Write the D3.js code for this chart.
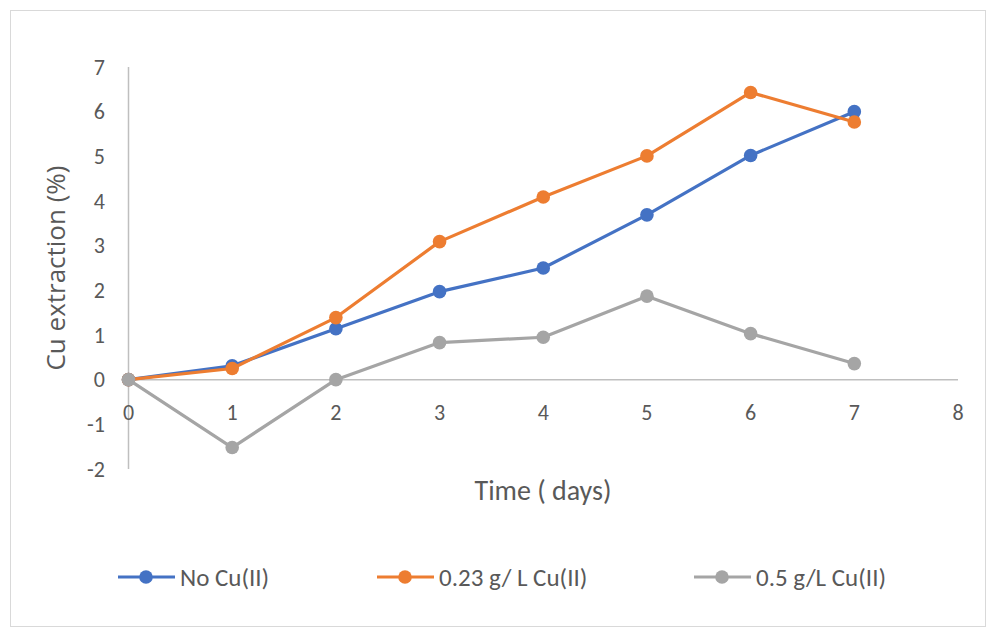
<!DOCTYPE html>
<html>
<head>
<meta charset="utf-8">
<script src="https://cdn.jsdelivr.net/npm/d3@7"></script>
<style>
  html, body { margin: 0; padding: 0; background: #fff; }
  svg { display: block; }
  text { font-family: Carlito, Calibri, "Liberation Sans Narrow", "Open Sans", sans-serif; fill: #595959; }
</style>
</head>
<body>
<svg id="chart" width="996" height="637"></svg>
<script>
const days = [0, 1, 2, 3, 4, 5, 6, 7];
const noCu = [0, 0.31, 1.14, 1.97, 2.50, 3.69, 5.02, 6.00];
const cu023 = [0, 0.25, 1.39, 3.09, 4.09, 5.01, 6.43, 5.77];
const cu05 = [0, -1.52, 0, 0.83, 0.95, 1.87, 1.03, 0.36];
const seriesNames = ["No Cu(II)", "0.23 g/ L Cu(II)", "0.5 g/L Cu(II)"];
const seriesColors = ["#4472C4", "#ED7D31", "#A5A5A5"];
const xTicks = [0, 1, 2, 3, 4, 5, 6, 7, 8];
const yTicks = [-2, -1, 0, 1, 2, 3, 4, 5, 6, 7];
const xTitle = "Time ( days)";
const yTitle = "Cu extraction (%)";

const series = [noCu, cu023, cu05].map((vals, i) => ({
  name: seriesNames[i], color: seriesColors[i],
  points: days.map((d, j) => ({ x: d, y: vals[j] }))
}));

const svg = d3.select("#chart");

// outer border
svg.append("rect").attr("x", 10.5).attr("y", 10.5).attr("width", 975).attr("height", 616)
  .attr("fill", "#fff").attr("stroke", "#D9D9D9").attr("stroke-width", 1);

const x = d3.scaleLinear().domain([0, 8]).range([128.5, 958]);
const y = d3.scaleLinear().domain([-2, 7]).range([469, 67]);

// y axis line
svg.append("line").attr("x1", x(0)).attr("x2", x(0)).attr("y1", y(7)).attr("y2", y(-2))
  .attr("stroke", "#BFBFBF").attr("stroke-width", 1.5);
// x axis line at y=0
svg.append("line").attr("x1", x(0)).attr("x2", x(8)).attr("y1", y(0)).attr("y2", y(0))
  .attr("stroke", "#BFBFBF").attr("stroke-width", 1.5);

// y tick labels
svg.append("g").selectAll("text").data(yTicks).join("text")
  .attr("x", 105).attr("y", d => y(d)).attr("dy", "0.35em")
  .attr("text-anchor", "end").attr("font-size", 22).text(d => d);

// x tick labels
svg.append("g").selectAll("text").data(xTicks).join("text")
  .attr("x", d => x(d)).attr("y", y(0) + 40)
  .attr("text-anchor", "middle").attr("font-size", 22).text(d => d);

// axis titles
svg.append("text").attr("x", 543).attr("y", 500).attr("text-anchor", "middle")
  .attr("font-size", 28).text(xTitle);
svg.append("text").attr("transform", "translate(65,268) rotate(-90)")
  .attr("text-anchor", "middle").attr("font-size", 26)
  .style("font-family", "'Open Sans', sans-serif").text(yTitle);

const line = d3.line().x(d => x(d.x)).y(d => y(d.y));

const g = svg.append("g");
series.forEach(s => {
  g.append("path").attr("d", line(s.points)).attr("fill", "none")
    .attr("stroke", s.color).attr("stroke-width", 3.2).attr("stroke-linejoin", "round");
  g.selectAll(null).data(s.points).join("circle")
    .attr("cx", d => x(d.x)).attr("cy", d => y(d.y)).attr("r", 6.8)
    .attr("fill", s.color);
});

// legend
const legendX = [118, 377, 694];
const legendY = 577;
series.forEach((s, i) => {
  const lg = svg.append("g").attr("transform", `translate(${legendX[i]},${legendY})`);
  lg.append("line").attr("x1", 0).attr("x2", 57).attr("y1", 0).attr("y2", 0)
    .attr("stroke", s.color).attr("stroke-width", 3.2);
  lg.append("circle").attr("cx", 28).attr("cy", 0).attr("r", 6.8).attr("fill", s.color);
  lg.append("text").attr("x", 62).attr("y", 0).attr("dy", "0.35em")
    .attr("font-size", 25).text(s.name);
});
</script>
</body>
</html>
